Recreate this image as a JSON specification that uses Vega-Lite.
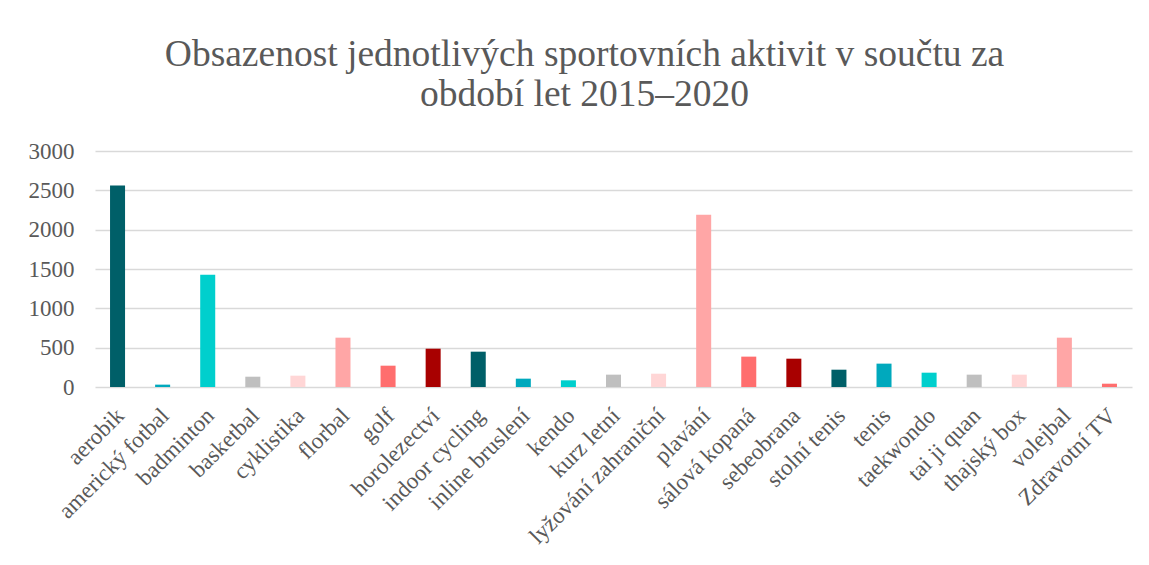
{
  "$schema": "https://vega.github.io/schema/vega-lite/v6.json",
  "autosize": {"type": "none"},
  "width": 1037,
  "height": 236,
  "padding": {"left": 95, "top": 151, "right": 17, "bottom": 178},
  "background": "white",
  "title": {
    "text": ["Obsazenost jednotlivých sportovních aktivit v součtu za", "období let 2015–2020"],
    "font": "Liberation Serif",
    "fontSize": 37.5,
    "fontWeight": "normal",
    "color": "#595959",
    "anchor": "middle",
    "frame": "group",
    "dx": -29,
    "lineHeight": 40,
    "offset": 27
  },
  "data": {
    "values": [
      {"aktivita": "aerobik", "pocet": 2560},
      {"aktivita": "americký fotbal", "pocet": 30},
      {"aktivita": "badminton", "pocet": 1428},
      {"aktivita": "basketbal", "pocet": 131},
      {"aktivita": "cyklistika", "pocet": 144},
      {"aktivita": "florbal", "pocet": 627},
      {"aktivita": "golf", "pocet": 271},
      {"aktivita": "horolezectví", "pocet": 487},
      {"aktivita": "indoor cycling", "pocet": 449},
      {"aktivita": "inline bruslení", "pocet": 106},
      {"aktivita": "kendo", "pocet": 85},
      {"aktivita": "kurz letní", "pocet": 157},
      {"aktivita": "lyžování zahraniční", "pocet": 169},
      {"aktivita": "plavání", "pocet": 2190},
      {"aktivita": "sálová kopaná", "pocet": 386},
      {"aktivita": "sebeobrana", "pocet": 360},
      {"aktivita": "stolní tenis", "pocet": 220},
      {"aktivita": "tenis", "pocet": 297},
      {"aktivita": "taekwondo", "pocet": 182},
      {"aktivita": "tai ji quan", "pocet": 157},
      {"aktivita": "thajský box", "pocet": 157},
      {"aktivita": "volejbal", "pocet": 627},
      {"aktivita": "Zdravotní TV", "pocet": 42}
    ]
  },
  "mark": {"type": "bar"},
  "encoding": {
    "x": {
      "field": "aktivita",
      "type": "nominal",
      "sort": null,
      "scale": {"paddingInner": 0.667, "paddingOuter": 0.3335},
      "axis": {
        "title": null,
        "labelAngle": -45,
        "labelFont": "Liberation Serif",
        "labelFontSize": 23,
        "labelColor": "#595959",
        "labelPadding": 17,
        "labelOffset": -5,
        "ticks": false,
        "domain": false,
        "labelLimit": 300
      }
    },
    "y": {
      "field": "pocet",
      "type": "quantitative",
      "scale": {"domain": [0, 3000], "nice": false},
      "axis": {
        "title": null,
        "format": "d",
        "values": [0, 500, 1000, 1500, 2000, 2500, 3000],
        "labelFont": "Liberation Serif",
        "labelFontSize": 23,
        "labelColor": "#595959",
        "labelPadding": 21,
        "ticks": false,
        "domain": false,
        "grid": true,
        "gridColor": "#D9D9D9",
        "gridWidth": 1.5
      }
    },
    "color": {
      "field": "aktivita",
      "type": "nominal",
      "sort": null,
      "legend": null,
      "scale": {
        "domain": ["aerobik", "americký fotbal", "badminton", "basketbal", "cyklistika", "florbal", "golf", "horolezectví", "indoor cycling", "inline bruslení", "kendo", "kurz letní", "lyžování zahraniční", "plavání", "sálová kopaná", "sebeobrana", "stolní tenis", "tenis", "taekwondo", "tai ji quan", "thajský box", "volejbal", "Zdravotní TV"],
        "range": ["#005F68", "#00A9BD", "#00CFCD", "#BFBFBF", "#FFD6D6", "#FFA6A6", "#FF6E6E", "#A80000", "#005F68", "#00A9BD", "#00CFCD", "#BFBFBF", "#FFD6D6", "#FFA6A6", "#FF6E6E", "#A80000", "#005F68", "#00A9BD", "#00CFCD", "#BFBFBF", "#FFD6D6", "#FFA6A6", "#FF6E6E"]
      }
    }
  },
  "config": {"view": {"stroke": null}, "font": "Liberation Serif"}
}
